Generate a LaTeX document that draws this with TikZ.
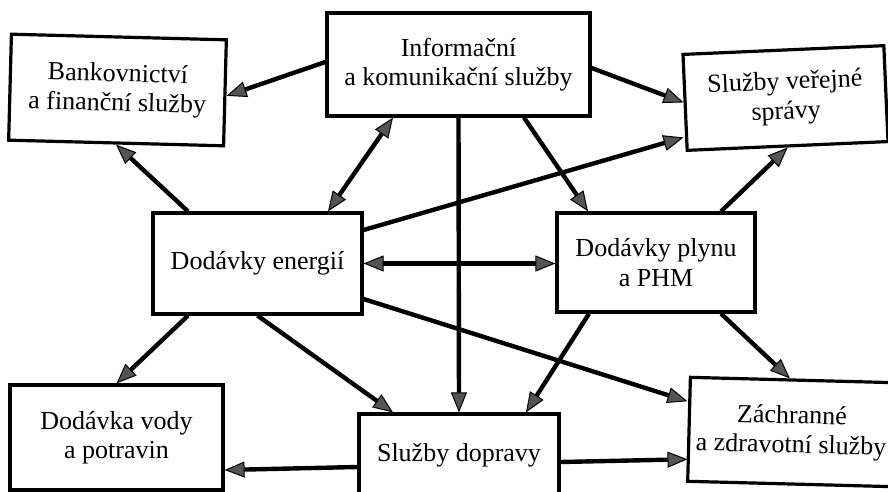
\documentclass[tikz,border=0pt]{standalone}
\usepackage{fontspec}
\setmainfont{Liberation Serif}
\usetikzlibrary{arrows.meta}
\definecolor{tipgray}{gray}{0.33}
\tikzset{
  box/.style={draw=black, line width=3.2pt, fill=white, inner sep=0pt,
    align=center, font=\fontsize{26}{29.5}\selectfont},
  arr/.style={line width=4.4pt, -{Triangle[length=20pt,width=16pt,fill=tipgray,line width=1pt]}},
  biarr/.style={line width=4.4pt,
    {Triangle[length=20pt,width=16pt,fill=tipgray,line width=1pt]}-{Triangle[length=20pt,width=16pt,fill=tipgray,line width=1pt]}}
}
\begin{document}
\begin{tikzpicture}[x=1pt,y=-1pt]
\useasboundingbox[fill=white] (0,0) rectangle (888,492);

% service boxes
\node[box, minimum width=263pt, minimum height=103pt] (info) at (458.5,64.5)
  {Informační\\a komunikační služby};
\node[box, rotate=-1.5, minimum width=215pt, minimum height=106pt] (bank) at (117.5,90)
  {Bankovnictví\\a finanční služby};
\node[box, rotate=2.5, minimum width=201pt, minimum height=96pt] (pub) at (785.5,98)
  {Služby veřejné\\správy};
\node[box, minimum width=209pt, minimum height=101pt] (energy) at (257.5,263.5)
  {Dodávky energií};
\node[box, minimum width=198pt, minimum height=99pt] (gas) at (656,262.5)
  {Dodávky plynu\\a PHM};
\node[box, minimum width=213pt, minimum height=105pt] (water) at (116.5,437.5)
  {Dodávka vody\\a potravin};
\node[box, minimum width=200pt, minimum height=83pt] (transport) at (459,455.5)
  {Služby dopravy};
\node[box, rotate=-1.5, minimum width=205pt, minimum height=104pt] (rescue) at (791.5,432)
  {Záchranné\\a zdravotní služby};

% dependencies
\draw[arr] ([yshift=2.5pt]info.west) -- ([yshift=-3pt]bank.east);
\draw[arr] ([yshift=-3.5pt]info.east) -- (pub.west);
\draw[arr] ([xshift=65.5pt]info.south) -- ([xshift=-68pt]gas.north);
\draw[arr] (info.south) -- (transport.north);
\draw[biarr] ([xshift=70.5pt]energy.north) -- ([xshift=-65.5pt]info.south);
\draw[arr] ([xshift=-69.5pt]energy.north) -- (bank.south);
\draw[arr] ([yshift=33.5pt]energy.east) -- ([yshift=-35pt]pub.west);
\draw[biarr] (energy.east) -- (energy.east -| gas.west);
\draw[arr] ([xshift=-69.5pt]energy.south) -- (water.north);
\draw[arr] (energy.south) -- ([xshift=-66pt]transport.north);
\draw[arr] ([yshift=-35.5pt]energy.east) -- ([yshift=28pt]rescue.west);
\draw[arr] ([xshift=65pt]gas.north) -- (pub.south);
\draw[arr] ([xshift=-67pt]gas.south) -- ([xshift=67pt]transport.north);
\draw[arr] ([xshift=65pt]gas.south) -- ([xshift=-3pt]rescue.north);
\draw[arr] ([yshift=-11.5pt]transport.west) -- ([yshift=-32.5pt]water.east);
\draw[arr] ([yshift=-6.5pt]transport.east) -- ([yshift=-30pt]rescue.west);
\end{tikzpicture}
\end{document}
